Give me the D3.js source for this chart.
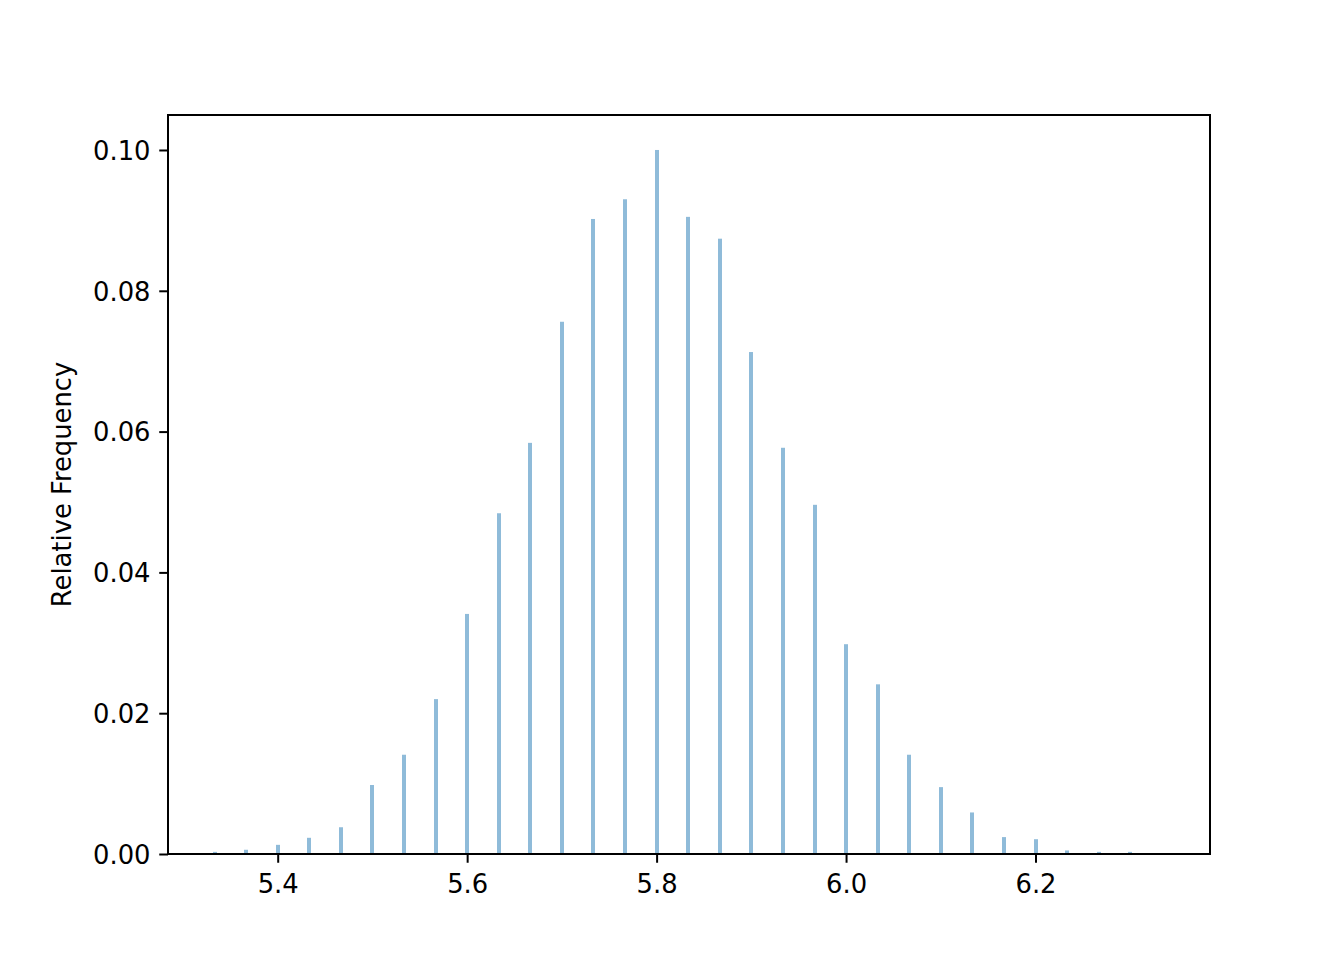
<!DOCTYPE html>
<html>
<head>
<meta charset="utf-8">
<script src="https://d3js.org/d3.v7.min.js"></script>
<style>
  body { margin: 0; background: #fff; }
  svg text { font-family: "DejaVu Sans", sans-serif; fill: #000; }
</style>
</head>
<body>
<div id="area"></div>
<script>
// bin centres (step 1/30) and relative frequencies
var binCenters = [5.3333, 5.3667, 5.4, 5.4333, 5.4667, 5.5, 5.5333, 5.5667, 5.6, 5.6333,
                  5.6667, 5.7, 5.7333, 5.7667, 5.8, 5.8333, 5.8667, 5.9, 5.9333, 5.9667,
                  6.0, 6.0333, 6.0667, 6.1, 6.1333, 6.1667, 6.2, 6.2333, 6.2667, 6.3];
var relFreq = [0.0003, 0.0006, 0.0013, 0.0023, 0.0038, 0.0098, 0.0141, 0.0220, 0.0341, 0.0484,
               0.0584, 0.0756, 0.0902, 0.0930, 0.1000, 0.0905, 0.0874, 0.0713, 0.0577, 0.0496,
               0.0298, 0.0241, 0.0141, 0.0095, 0.0059, 0.0024, 0.0021, 0.0005, 0.0003, 0.0003];
var xTicks = [5.4, 5.6, 5.8, 6.0, 6.2];
var yTicks = [0.00, 0.02, 0.04, 0.06, 0.08, 0.10];
var yLabel = "Relative Frequency";
var barWidth = 0.0042; // in data units

var W = 1344, H = 960;
var fontSize = 25.8;
var margin = {top: 115, right: 134, bottom: 106, left: 168},
    width = W - margin.left - margin.right,
    height = H - margin.top - margin.bottom;

var svg = d3.select("#area")
  .append("svg")
    .attr("width", W)
    .attr("height", H);

var g = svg.append("g")
    .attr("transform", "translate(" + margin.left + "," + margin.top + ")");

var x = d3.scaleLinear().domain([5.2842, 6.3842]).range([0, width]);
var y = d3.scaleLinear().domain([0, 0.10497]).range([height, 0]);

var data = binCenters.map(function(c, i) { return {x: c, v: relFreq[i]}; });

// Bars (x snapped to whole pixels like matplotlib does)
g.append("g")
  .selectAll("rect")
  .data(data)
  .enter()
  .append("rect")
    .attr("x", function(d) { return Math.round(x(d.x - barWidth / 2)); })
    .attr("width", function(d) { return Math.round(x(d.x + barWidth / 2) - x(d.x - barWidth / 2)); })
    .attr("y", function(d) { return y(d.v); })
    .attr("height", function(d) { return height - y(d.v); })
    .attr("fill", "#1f77b4")
    .attr("fill-opacity", 0.5);

// X axis
var xAxis = g.append("g")
  .attr("transform", "translate(0," + height + ")")
  .call(d3.axisBottom(x).tickValues(xTicks).tickFormat(d3.format(".1f"))
        .tickSizeInner(8.75).tickSizeOuter(0).tickPadding(8.75));
xAxis.attr("font-family", null);
xAxis.select(".domain").remove();
xAxis.selectAll("line").attr("stroke", "#000").attr("stroke-width", 2);
xAxis.selectAll("text").attr("font-size", fontSize).attr("dy", null).attr("y", 39);

// Y axis
var yAxis = g.append("g")
  .call(d3.axisLeft(y).tickValues(yTicks).tickFormat(d3.format(".2f"))
        .tickSizeInner(8.75).tickSizeOuter(0).tickPadding(8.75));
yAxis.attr("font-family", null);
yAxis.select(".domain").remove();
yAxis.selectAll("line").attr("stroke", "#000").attr("stroke-width", 2);
yAxis.selectAll("text").attr("font-size", fontSize).attr("dy", "0.36em");

// Frame
g.append("rect")
  .attr("x", 0).attr("y", 0)
  .attr("width", width).attr("height", height)
  .attr("fill", "none")
  .attr("stroke", "#000")
  .attr("stroke-width", 2);

// Y label
svg.append("text")
  .attr("transform", "translate(71," + (margin.top + height / 2) + ") rotate(-90)")
  .attr("text-anchor", "middle")
  .attr("font-size", fontSize)
  .text(yLabel);
</script>
</body>
</html>
